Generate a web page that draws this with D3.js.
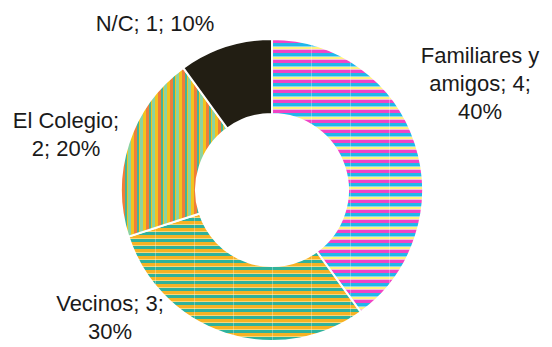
<!DOCTYPE html>
<html><head><meta charset="utf-8">
<script src="https://cdn.jsdelivr.net/npm/d3@7"></script>
<style>body{margin:0;background:#fff}svg{display:block}text{font-family:"Liberation Sans",Arial,sans-serif;fill:#1a1a1a}</style>
</head><body><svg id="c" width="552" height="347"></svg>
<script>
const categories = ["Familiares y amigos", "Vecinos", "El Colegio", "N/C"];
const values = [4, 3, 2, 1];
const percents = ["40%", "30%", "20%", "10%"];
const labelLines = [["Familiares y", "amigos; 4;", "40%"], ["Vecinos; 3;", "30%"], ["El Colegio;", "2; 20%"], ["N/C; 1; 10%"]];

const svg = d3.select("#c");
const defs = svg.append("defs");
function stripePattern(id, stripes, vert) {
  const total = d3.sum(stripes, s => s[1]);
  const p = defs.append("pattern").attr("id", id).attr("patternUnits", "userSpaceOnUse")
    .attr("width", vert ? total : 39).attr("height", vert ? 40 : total);
  let o = 0;
  stripes.forEach(s => {
    if (vert) p.append("rect").attr("x", o).attr("y", 0).attr("width", s[1]).attr("height", 40).attr("fill", s[0]);
    else p.append("rect").attr("x", 0).attr("y", o).attr("width", 39).attr("height", s[1]).attr("fill", s[0]);
    o += s[1];
  });
  if (!vert) p.append("rect").attr("x", 0).attr("y", 0).attr("width", 1).attr("height", total).attr("fill", "#fff").attr("opacity", 0.3);
}
stripePattern("p0", [["#ef45c5", 3], ["#22b7ea", 3], ["#8ad9f0", 1], ["#fff27c", 2], ["#f8b8e0", 1]], false);
stripePattern("p1", [["#2fb29b", 3], ["#f6b224", 3], ["#f9d77a", 1]], false);
stripePattern("p2", [["#8cd3a1", 3], ["#f3c31e", 3], ["#ef7d3b", 3], ["#45b493", 2], ["#f3c31e", 1]], true);
const fills = ["url(#p0)", "url(#p1)", "url(#p2)", "#221e13"];

const cx = 272, cy = 190, R = 151, r = 76;
const pie = d3.pie().sort(null).value(d => d)(values);
const arc = d3.arc().innerRadius(r).outerRadius(R);
const g = svg.append("g").attr("transform", `translate(${cx},${cy})`);
g.selectAll("path").data(pie).join("path").attr("d", arc)
  .attr("fill", (d, i) => fills[i]).attr("stroke", "#fff").attr("stroke-width", 2);

// label anchor: center x, first baseline y
const labelPos = [[480, 63], [110, 311], [66, 128], [155, 31]];
const lh = 28;
labelLines.forEach((lines, i) => {
  const t = svg.append("text").attr("text-anchor", "middle").attr("font-size", 22);
  lines.forEach((l, j) => t.append("tspan").attr("x", labelPos[i][0]).attr("y", labelPos[i][1] + j * lh).text(l));
});
</script></body></html>
